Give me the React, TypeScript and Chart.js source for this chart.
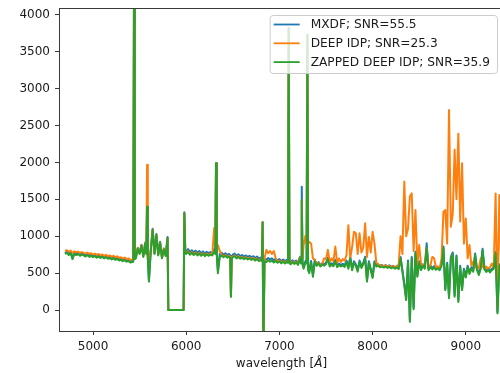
import { useEffect, useRef } from "react";
import { Chart, registerables } from "chart.js";

Chart.register(...registerables);

// Wavelength samples (Angstrom)
const wavelength = [
  4700, 4720, 4740, 4760, 4780, 4800, 4820, 4840, 4860, 4880,
  4900, 4920, 4940, 4960, 4980, 5000, 5020, 5040, 5060, 5080,
  5100, 5120, 5140, 5160, 5180, 5200, 5220, 5240, 5260, 5280,
  5300, 5320, 5340, 5360, 5380, 5400, 5420, 5432, 5440, 5448, 5460, 5480,
  5500, 5520, 5540, 5560, 5572, 5580, 5588, 5600, 5620, 5640, 5660, 5680,
  5700, 5720, 5740, 5760, 5780, 5800, 5808, 5820, 5840, 5860, 5880,
  5900, 5920, 5940, 5960, 5972, 5980, 5990, 6000, 6020, 6040, 6060, 6080,
  6100, 6120, 6140, 6160, 6180, 6200, 6220, 6240, 6260, 6280,
  6300, 6312, 6320, 6328, 6340, 6360, 6380, 6400, 6420, 6440, 6460, 6472, 6480, 6488,
  6500, 6520, 6540, 6560, 6580, 6600, 6620, 6640, 6660, 6680,
  6700, 6720, 6740, 6760, 6780, 6800, 6812, 6820, 6828, 6840, 6860, 6880,
  6900, 6920, 6940, 6960, 6980, 7000, 7020, 7040, 7060, 7080, 7092,
  7100, 7108, 7120, 7140, 7160, 7180, 7200, 7220, 7232, 7240, 7248, 7260, 7280, 7292,
  7300, 7308, 7320, 7340, 7360, 7380, 7400, 7420, 7440, 7460, 7480,
  7500, 7520, 7540, 7560, 7580, 7600, 7620, 7640, 7660, 7680,
  7700, 7720, 7740, 7760, 7780, 7800, 7820, 7840, 7860, 7880,
  7900, 7920, 7940, 7960, 7980, 8000, 8020, 8040, 8060, 8080,
  8100, 8120, 8140, 8160, 8180, 8200, 8220, 8240, 8260, 8280,
  8300, 8320, 8340, 8360, 8380, 8400, 8420, 8440, 8460, 8480,
  8500, 8520, 8540, 8560, 8580, 8600, 8620, 8640, 8660, 8680,
  8700, 8720, 8740, 8760, 8780, 8800, 8820, 8840, 8860, 8880,
  8900, 8920, 8940, 8960, 8980, 9000, 9020, 9040, 9060, 9080,
  9100, 9120, 9140, 9160, 9180, 9200, 9220, 9240, 9260, 9280,
  9300, 9320, 9340, 9360, 9380,
];

// MXDF; SNR=55.5
const mxdf = [
  765, 790, 760, 785, 705, 775, 760, 770, 750, 765,
  755, 740, 760, 735, 750, 730, 745, 725, 740, 720,
  735, 715, 730, 710, 720, 700, 715, 695, 705, 687,
  695, 677, 690, 670, 680, 660, 665, 672, 4400, 705, 715, 845,
  775, 885, 735, 915, 775, 1400, 710, 400, 815, 1100, 775, 1030,
  755, 925, 715, 835, 745, 990, 0, 0, 0, 0, 0,
  0, 0, 0, 0, 0, 1325, 800, 795, 825, 785, 810, 780,
  805, 775, 800, 770, 795, 765, 790, 770, 785, 775,
  825, 790, 1990, 770, 530, 755, 775, 750, 770, 745, 760, 735, 200, 725,
  750, 765, 735, 755, 730, 745, 725, 740, 720, 735,
  715, 730, 705, 725, 700, 710, 700, 1190, -600, 690, 685, 705,
  685, 700, 675, 695, 670, 690, 665, 685, 660, 680, 665,
  3820, 660, 645, 675, 650, 670, 635, 720, 650, 1670, 640, 585, 665, 650,
  3730, 560, 525, 665, 475, 680, 620, 650, 610, 635, 620,
  640, 710, 610, 635, 615, 680, 600, 630, 610, 625,
  605, 670, 580, 720, 560, 660, 620, 540, 670, 590,
  640, 720, 405, 660, 560, 455, 660, 610, 620, 600,
  610, 595, 610, 590, 605, 585, 600, 580, 595, 575,
  720, 540, 360, 155, 670, -140, 720, 30, 790, 470,
  660, 560, 620, 580, 905, 560, 600, 570, 595, 565,
  585, 560, 620, 860, 290, 640, 180, 720, 780, 200,
  740, 130, 600, 290, 560, 460, 600, 510, 580, 540,
  765, 560, 495, 580, 830, 570, 535, 565, 530, 560,
  580, 790, -25, 620, 540,
];

// DEEP IDP; SNR=25.3
const deepIdp = [
  800, 810, 790, 805, 775, 795, 785, 790, 775, 785,
  775, 765, 778, 760, 770, 752, 765, 748, 760, 742,
  752, 735, 748, 730, 740, 722, 735, 716, 727, 708,
  715, 698, 710, 690, 700, 680, 684, 690, 4400, 712, 720, 840,
  770, 880, 730, 910, 770, 1970, 720, 700, 810, 1090, 770, 1020,
  750, 915, 710, 830, 740, 975, 0, 0, 0, 0, 0,
  0, 0, 0, 0, 0, 1310, 780, 770, 800, 760, 785, 755,
  780, 750, 775, 745, 770, 740, 765, 745, 760, 760,
  1110, 900, 1990, 880, 880, 800, 750, 725, 745, 720, 735, 715, 180, 715,
  725, 740, 710, 730, 705, 720, 700, 715, 695, 710,
  690, 705, 680, 700, 675, 685, 680, 1190, -600, 700, 815, 770,
  800, 760, 800, 700, 650, 670, 645, 665, 640, 660, 650,
  3820, 650, 630, 660, 635, 655, 620, 710, 660, 1490, 700, 880, 1010, 900,
  3730, 900, 925, 900, 700, 680, 610, 640, 600, 625, 700,
  690, 815, 650, 700, 660, 860, 640, 700, 650, 690,
  670, 745, 1150, 700, 850, 1060, 1040, 760, 1040, 780,
  850, 1175, 720, 990, 780, 1060, 904, 640, 620, 600,
  605, 590, 605, 585, 600, 580, 595, 575, 590, 620,
  1000, 760, 1740, 1000, 1100, 1540, 1580, 800, 1355, 620,
  880, 620, 610, 580, 840, 560, 600, 720, 700, 580,
  590, 560, 700, 1330, 1355, 900, 2710, 1130, 1300, 2170,
  1500, 2390, 1200, 1990, 900, 1240, 700, 880, 600, 655,
  600, 560, 570, 700, 590, 560, 590, 555, 580, 630,
  580, 1580, 45, 1560, 600,
];

// ZAPPED DEEP IDP; SNR=35.9
const zappedDeepIdp = [
  760, 775, 745, 770, 690, 760, 745, 755, 735, 750,
  740, 725, 745, 720, 735, 715, 730, 710, 725, 705,
  720, 700, 715, 695, 705, 685, 700, 680, 690, 672,
  680, 662, 675, 655, 665, 645, 650, 655, 4400, 690, 700, 830,
  760, 870, 720, 900, 760, 1400, 700, 385, 800, 1085, 760, 1015,
  740, 910, 700, 820, 730, 975, 0, 0, 0, 0, 0,
  0, 0, 0, 0, 0, 1310, 770, 760, 790, 750, 775, 745,
  770, 740, 765, 735, 760, 730, 755, 735, 750, 740,
  790, 760, 1990, 740, 500, 720, 740, 715, 735, 710, 725, 700, 180, 690,
  715, 730, 700, 720, 695, 710, 690, 705, 685, 700,
  680, 695, 670, 690, 665, 675, 665, 1190, -600, 660, 650, 675,
  655, 670, 645, 665, 640, 660, 635, 655, 630, 650, 640,
  3820, 640, 620, 650, 625, 645, 610, 700, 630, 1490, 620, 560, 640, 630,
  3730, 540, 500, 640, 450, 660, 600, 630, 590, 615, 600,
  620, 690, 590, 615, 595, 660, 580, 610, 590, 605,
  585, 650, 560, 700, 540, 640, 600, 520, 650, 570,
  620, 700, 385, 640, 540, 435, 640, 590, 600, 580,
  590, 575, 590, 570, 585, 565, 580, 560, 575, 555,
  700, 520, 340, 135, 650, -160, 700, 10, 770, 450,
  640, 540, 600, 560, 840, 540, 580, 550, 575, 545,
  565, 540, 600, 840, 270, 620, 160, 700, 760, 180,
  720, 110, 580, 270, 540, 440, 580, 490, 560, 520,
  745, 540, 475, 560, 810, 550, 515, 545, 510, 540,
  560, 770, -45, 600, 520,
];

const seriesLabels = ["MXDF; SNR=55.5", "DEEP IDP; SNR=25.3", "ZAPPED DEEP IDP; SNR=35.9"];
const seriesColors = ["#1f77b4", "#ff7f0e", "#2ca02c"];
const xTicks = [5000, 6000, 7000, 8000, 9000];
const yTicks = [0, 500, 1000, 1500, 2000, 2500, 3000, 3500, 4000];
const xLabelParts = ["wavelength [", "Å", "]"];

const FONT = '"DejaVu Sans", sans-serif';

const framePlugin = {
  id: "frame",
  afterDatasetsDraw(chart: any) {
    const { ctx, chartArea } = chart;
    ctx.save();
    ctx.strokeStyle = "#3a3a3a";
    ctx.lineWidth = 1;
    ctx.strokeRect(
      Math.round(chartArea.left) + 0.5,
      Math.round(chartArea.top) + 0.5,
      Math.round(chartArea.right - chartArea.left),
      Math.round(chartArea.bottom - chartArea.top)
    );
    ctx.restore();
  },
};

const legendPlugin = {
  id: "mplLegend",
  afterDraw(chart: any) {
    const { ctx, chartArea } = chart;
    const datasets = chart.data.datasets;
    ctx.save();
    ctx.font = `12.2px ${FONT}`;
    const tw = Math.max(...datasets.map((d: any) => ctx.measureText(d.label).width));
    const w = 41 + tw + 7;
    const h = 58;
    const bx = chartArea.right - 7 - w;
    const by = chartArea.top + 7;
    ctx.beginPath();
    if (ctx.roundRect) ctx.roundRect(bx + 0.5, by + 0.5, w, h, 3);
    else ctx.rect(bx + 0.5, by + 0.5, w, h);
    ctx.fillStyle = "rgba(255,255,255,0.8)";
    ctx.fill();
    ctx.strokeStyle = "#cccccc";
    ctx.lineWidth = 1;
    ctx.stroke();
    datasets.forEach((d: any, i: number) => {
      const y = by + 9.5 + i * 18.8;
      ctx.beginPath();
      ctx.moveTo(bx + 4, y);
      ctx.lineTo(bx + 30, y);
      ctx.strokeStyle = d.borderColor;
      ctx.lineWidth = 1.8;
      ctx.stroke();
      ctx.fillStyle = "#1a1a1a";
      ctx.textBaseline = "middle";
      ctx.textAlign = "left";
      ctx.fillText(d.label, bx + 41, y + 0.5);
    });
    ctx.restore();
  },
};

const xLabelPlugin = {
  id: "xLabel",
  afterDraw(chart: any) {
    const { ctx, chartArea } = chart;
    ctx.save();
    const fonts = [`12px ${FONT}`, `italic 12px ${FONT}`, `12px ${FONT}`];
    const widths = xLabelParts.map((p, i) => {
      ctx.font = fonts[i];
      return ctx.measureText(p).width;
    });
    const total = widths.reduce((a, b) => a + b, 0);
    let x = (chartArea.left + chartArea.right) / 2 - total / 2;
    ctx.fillStyle = "#1a1a1a";
    ctx.textBaseline = "alphabetic";
    ctx.textAlign = "left";
    xLabelParts.forEach((p, i) => {
      ctx.font = fonts[i];
      ctx.fillText(p, x, 367);
      x += widths[i];
    });
    ctx.restore();
  },
};

export default function App() {
  const canvasRef = useRef<HTMLCanvasElement | null>(null);

  useEffect(() => {
    if (!canvasRef.current) return;
    const seriesValues = [mxdf, deepIdp, zappedDeepIdp];
    const chart = new Chart(canvasRef.current, {
      type: "line",
      data: {
        datasets: seriesValues.map((vals, i) => ({
          label: seriesLabels[i],
          data: wavelength.map((w, j) => ({ x: w, y: vals[j] })),
          borderColor: seriesColors[i],
          backgroundColor: seriesColors[i],
          borderWidth: 2,
          borderJoinStyle: "round" as const,
          borderCapStyle: "butt" as const,
          pointRadius: 0,
          tension: 0,
          fill: false,
          order: 2 - i,
        })),
      },
      options: {
        animation: false,
        responsive: false,
        devicePixelRatio: 1,
        layout: { padding: { top: 8, right: 2, left: 0, bottom: 0 } },
        plugins: { legend: { display: false }, tooltip: { enabled: false } },
        scales: {
          x: {
            type: "linear",
            min: 4635,
            max: 9410,
            afterBuildTicks: (s: any) => {
              s.ticks = xTicks.map((v) => ({ value: v }));
            },
            afterFit: (s: any) => {
              s.height = 42;
              s.paddingLeft = 0;
              s.paddingRight = 0;
            },
            grid: { drawOnChartArea: false, drawTicks: true, tickLength: 4, color: "#3a3a3a", lineWidth: 1 },
            border: { display: false },
            ticks: {
              callback: (v: any) => String(v),
              font: { family: FONT, size: 12 },
              color: "#1a1a1a",
              padding: 5,
              maxRotation: 0,
              autoSkip: false,
            },
          },
          y: {
            type: "linear",
            min: -284,
            max: 4092,
            afterBuildTicks: (s: any) => {
              s.ticks = yTicks.map((v) => ({ value: v }));
            },
            afterFit: (s: any) => {
              s.width = 59;
              s.paddingTop = 0;
              s.paddingBottom = 0;
            },
            grid: { drawOnChartArea: false, drawTicks: true, tickLength: 4, color: "#3a3a3a", lineWidth: 1 },
            border: { display: false },
            ticks: {
              callback: (v: any) => String(v),
              font: { family: FONT, size: 12 },
              color: "#1a1a1a",
              padding: 5,
              autoSkip: false,
            },
          },
        },
      },
      plugins: [framePlugin, legendPlugin, xLabelPlugin],
    });
    return () => chart.destroy();
  }, []);

  return (
    <div style={{ position: "absolute", left: 0, top: 0, width: 500, height: 373, overflow: "hidden", background: "#fff" }}>
      <canvas ref={canvasRef} width={506} height={373} style={{ display: "block", width: 506, height: 373 }} />
    </div>
  );
}
